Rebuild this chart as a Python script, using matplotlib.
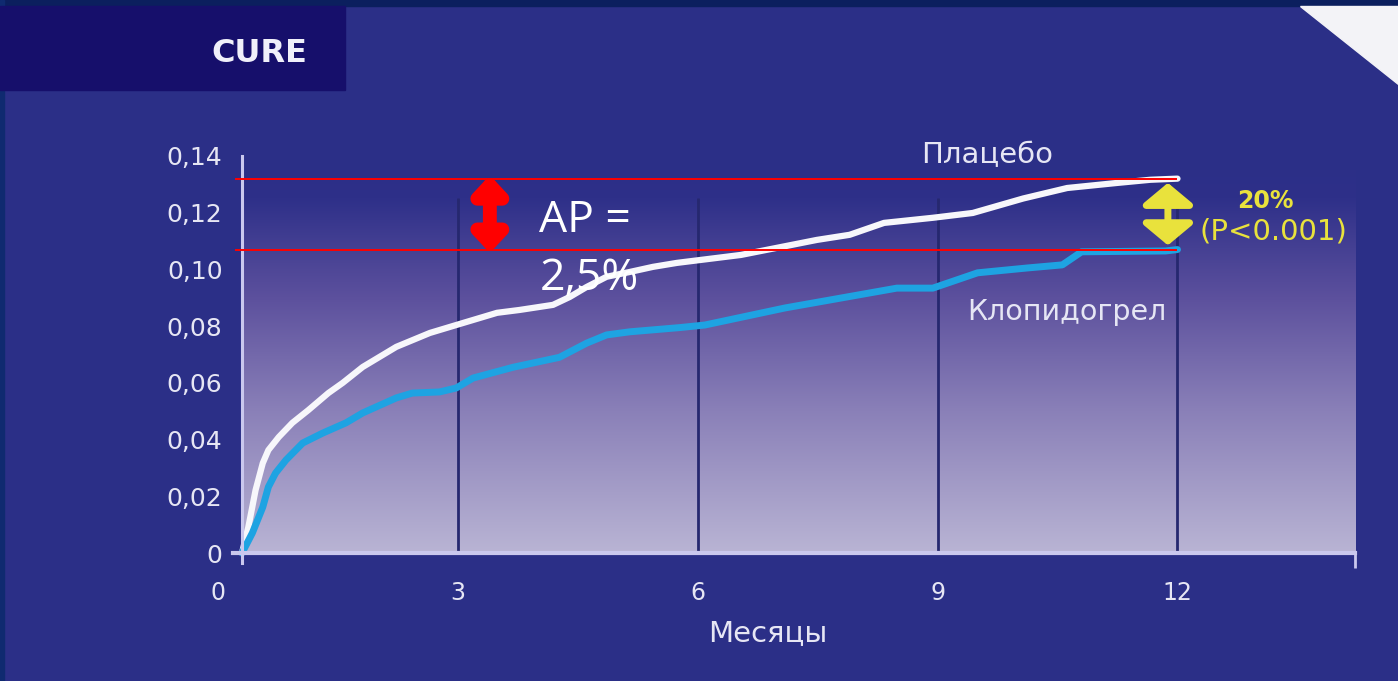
import matplotlib
matplotlib.use("Agg")
import matplotlib.pyplot as plt
import numpy as np
from matplotlib.patches import Rectangle, Polygon
from matplotlib.colors import to_rgb

# cumulative event rate, CURE trial (months from randomisation)
months_placebo = [0.3, 0.38, 0.47, 0.56, 0.63, 0.76, 0.93, 1.13, 1.38, 1.56, 1.81,
                  2.23, 2.65, 2.98, 3.49, 3.77, 4.19, 4.40, 4.61, 4.86, 5.15, 5.44,
                  5.74, 6.54, 7.49, 7.90, 8.33, 8.94, 9.44, 10.07, 10.62, 11.25,
                  11.66, 12.0]
placebo = [0, 0.0092, 0.0222, 0.0317, 0.0363, 0.0409, 0.0459, 0.0504, 0.0564,
           0.0600, 0.0656, 0.0727, 0.0776, 0.0804, 0.0847, 0.0857, 0.0875, 0.0903,
           0.0938, 0.0974, 0.0991, 0.1009, 0.1023, 0.1051, 0.1104, 0.1122, 0.1164,
           0.1182, 0.1199, 0.1250, 0.1287, 0.1305, 0.1316, 0.132]

months_clop = [0.3, 0.43, 0.56, 0.63, 0.72, 0.85, 1.06, 1.31, 1.60, 1.81, 2.23,
               2.43, 2.77, 2.98, 3.19, 3.69, 4.27, 4.61, 4.86, 5.15, 5.78,
               6.09, 7.09, 8.49, 8.94, 9.50, 10.12, 10.56, 10.80, 11.85, 12.0]
clopidogrel = [0, 0.0071, 0.0162, 0.0233, 0.0282, 0.0328, 0.0388, 0.0423, 0.0459,
               0.0494, 0.0547, 0.0564, 0.0568, 0.0582, 0.0617, 0.0655, 0.069,
               0.0740, 0.0769, 0.0780, 0.0795, 0.0804, 0.0864, 0.0934, 0.0934,
               0.0988, 0.1005, 0.1016, 0.1062, 0.1065, 0.107]

x_ticks = [0, 3, 6, 9, 12]
y_ticks = [0, 0.02, 0.04, 0.06, 0.08, 0.10, 0.12, 0.14]
y_labels = ["0", "0,02", "0,04", "0,06", "0,08", "0,10", "0,12", "0,14"]

BG = "#2b2f87"
AXIS = "#cac8ee"
TXT = "#e6e6f4"
YELLOW = "#e9e23c"

fig = plt.figure(figsize=(13.98, 6.81), dpi=100)
fig.patch.set_facecolor(BG)

# frame decorations
fig.add_artist(Rectangle((0, 1 - 6 / 681), 1, 6 / 681, transform=fig.transFigure,
                         color="#0b1f5e", zorder=0))
fig.add_artist(Rectangle((0, 0), 4 / 1398, 1, transform=fig.transFigure,
                         color="#0f2a70", zorder=0))
fig.add_artist(Rectangle((0, 1 - 90 / 681), 345 / 1398, 84 / 681,
                         transform=fig.transFigure, color="#160f6b", zorder=1))
fig.add_artist(Polygon([(1300 / 1398, 1 - 6 / 681), (1, 1 - 6 / 681), (1, 1 - 84 / 681)],
                       closed=True, transform=fig.transFigure, color="#f3f3f7", zorder=1))
fig.text(307 / 1398, 1 - 62 / 681, "CURE", color="#f0f0fa", fontsize=23,
         fontweight="bold", ha="right", va="baseline")

x0 = 0.3      # where the y axis sits
xmin, xmax = -0.05, 14.22
ymin, ymax = -0.0035, 0.14
ax = fig.add_axes([214 / 1398, 0.1733, (1355 - 214) / 1398, 0.5977])
ax.patch.set_visible(False)

# background gradient inside the plot area
stops_v = [0.0, 0.05, 0.09, 0.125, 0.14]
stops_c = ["#b9b4d4", "#8a80b8", "#5c509d", "#2e3089", BG]
vv = np.linspace(0.14, 0, 300)
rgb = np.array([to_rgb(c) for c in stops_c])
grad = np.stack([np.interp(vv, stops_v, rgb[:, k]) for k in range(3)], axis=-1)
ax.imshow(grad[:, None, :], extent=[x0, xmax, 0, 0.14], aspect="auto",
          interpolation="bilinear", zorder=0)

ax.vlines(x_ticks[1:], 0, 0.125, color="#26286f", lw=2, zorder=1)

ax.plot(months_placebo, placebo, color="#f7f7fb", lw=4.5, solid_capstyle="round",
        solid_joinstyle="round", zorder=3)
ax.plot(months_clop, clopidogrel, color="#1ea3e2", lw=5, solid_capstyle="round",
        solid_joinstyle="round", zorder=3)

pl_end = placebo[-1]
cl_end = clopidogrel[-1]
ax.hlines([pl_end, cl_end], 0.21, 12, color="#ff0000", lw=1.4, zorder=5, clip_on=False)

# absolute difference arrow
ax.annotate("", xy=(3.4, pl_end + 0.0012), xytext=(3.4, cl_end - 0.0012),
            arrowprops=dict(arrowstyle="<|-|>,head_length=0.32,head_width=0.3",
                            color="#ff0000", lw=10, shrinkA=0, shrinkB=0,
                            mutation_scale=30), zorder=6)
ap = (pl_end - cl_end) * 100
ax.text(4.02, 0.1132, "AP =", color="white", fontsize=32, ha="left", va="baseline",
        family="Open Sans", zorder=6)
ax.text(4.02, 0.0928, f"{ap:.1f}%".replace(".", ","), color="white", fontsize=32,
        ha="left", va="baseline", family="Open Sans", zorder=6)

# relative difference arrow
ax.annotate("", xy=(11.88, pl_end - 0.0015), xytext=(11.88, cl_end + 0.0015),
            arrowprops=dict(arrowstyle="<|-|>,head_length=0.5,head_width=0.6",
                            color=YELLOW, lw=5, shrinkA=0, shrinkB=0,
                            mutation_scale=26), zorder=6)
ax.text(13.1, 0.1217, "20%", color=YELLOW, fontsize=17, fontweight="bold",
        ha="center", va="baseline")
ax.text(13.2, 0.1104, "(P<0.001)", color=YELLOW, fontsize=21, ha="center",
        va="baseline")

ax.text(9.62, 0.1376, "Плацебо", color=TXT, fontsize=21, ha="center", va="baseline")
ax.text(10.62, 0.0822, "Клопидогрел", color=TXT, fontsize=20.5, ha="center",
        va="baseline")

# axes styling
for s in ["top", "right"]:
    ax.spines[s].set_visible(False)
ax.spines["left"].set_position(("data", x0))
ax.spines["bottom"].set_position(("data", 0))
ax.spines["left"].set_bounds(ymin, ymax)
ax.spines["bottom"].set_bounds(0.19, xmax)
ax.spines["left"].set_color(AXIS)
ax.spines["bottom"].set_color(AXIS)
ax.spines["left"].set_linewidth(2.2)
ax.spines["bottom"].set_linewidth(3)
ax.spines["left"].set_zorder(4)
ax.spines["bottom"].set_zorder(4)

ax.set_xticks(x_ticks)
ax.set_xticklabels([str(t) for t in x_ticks])
ax.set_yticks(y_ticks)
ax.set_yticklabels(y_labels)
ax.tick_params(axis="x", length=0, pad=20, labelsize=17, labelcolor=TXT)
ax.tick_params(axis="y", length=0, pad=14, labelsize=18, labelcolor=TXT)
ax.set_xticks([xmax], minor=True)
ax.set_yticks([0, 0.14], minor=True)
ax.tick_params(axis="x", which="minor", length=11, width=2, color=AXIS, direction="out")
ax.tick_params(axis="y", which="minor", length=7, width=2, color=AXIS, direction="out")

ax.set_xlim(xmin, xmax)
ax.set_ylim(ymin, ymax)

ax.set_xlabel("Месяцы", color=TXT, fontsize=21, labelpad=10)
ax.xaxis.label.set_x((768 - 214) / (1355 - 214))

fig.savefig("out.png", dpi=100, facecolor=fig.get_facecolor())
